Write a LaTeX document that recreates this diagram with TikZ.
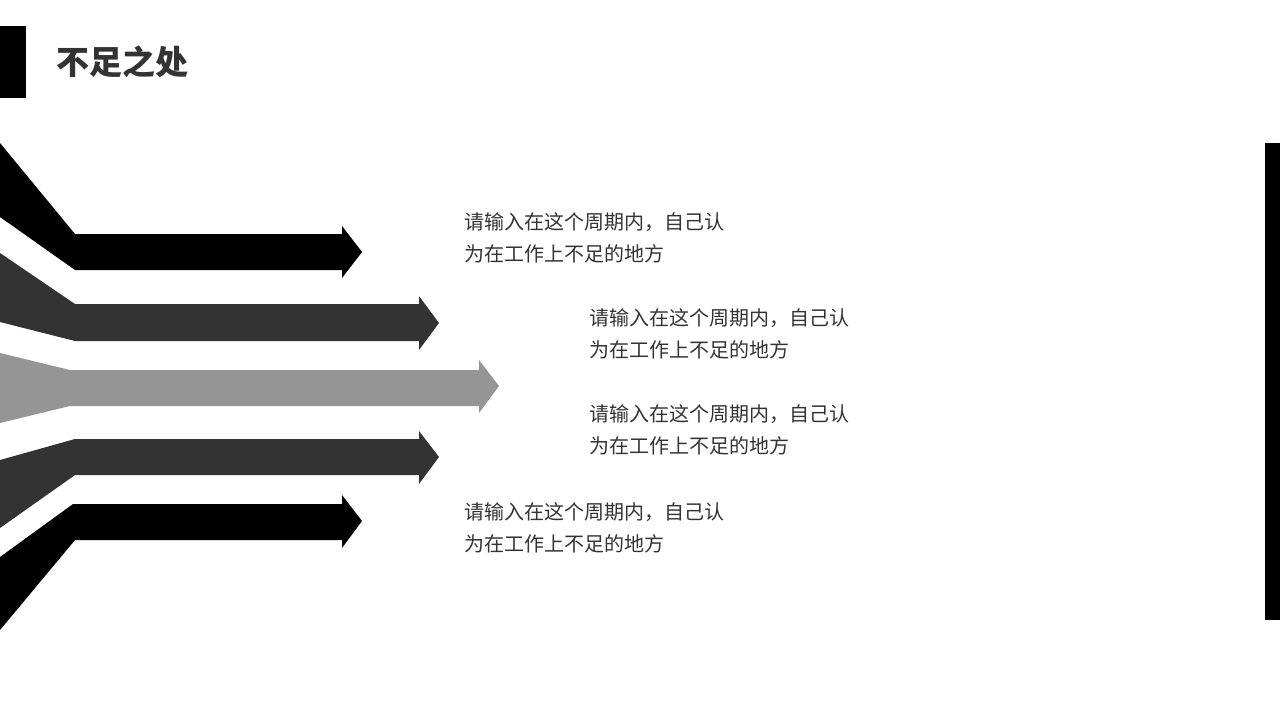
\documentclass[tikz,border=0pt]{standalone}
\usepackage{fontspec}
\newfontfamily\cjk{Noto Sans CJK SC}
\definecolor{dg}{HTML}{333333}
\definecolor{lg}{HTML}{959595}
\begin{document}
\begin{tikzpicture}[x=1pt,y=-1pt,
  txt/.style={anchor=north west,align=left,font=\cjk\fontsize{20}{32}\selectfont,text=dg,inner sep=0pt}]
\useasboundingbox (0,0) rectangle (1280,720);
\fill (0,26) rectangle (26,98);
\node[anchor=west,inner sep=0pt,font=\cjk\bfseries\fontsize{33}{36}\selectfont,text=dg] (title) at (56,62) {不足之处};
\fill (1265,143) rectangle (1280,620);
\fill[black] (0,143)--(75,234)--(342,234)--(342,226)--(362,252)--(342,278)--(342,270)--(75,270)--(0,217)--cycle;
\fill[dg] (0,253)--(75,304)--(419,304)--(419,296)--(439,323)--(419,350)--(419,341)--(75,341)--(0,322)--cycle;
\fill[lg] (0,353)--(70,370)--(479,370)--(479,360)--(499,386)--(479,413)--(479,406)--(70,406)--(0,423)--cycle;
\fill[dg] (0,460)--(75,439)--(419,439)--(419,431)--(439,457)--(419,484)--(419,475)--(75,475)--(0,528)--cycle;
\fill[black] (0,557)--(73,504)--(342,504)--(342,495)--(362,521)--(342,548)--(342,540)--(75,540)--(0,630)--cycle;
\node[txt] (t1) at (464,212) {请输入在这个周期内，自己认\\为在工作上不足的地方};
\node[txt] (t2) at (589,308) {请输入在这个周期内，自己认\\为在工作上不足的地方};
\node[txt] (t3) at (589,404) {请输入在这个周期内，自己认\\为在工作上不足的地方};
\node[txt] (t4) at (464,502) {请输入在这个周期内，自己认\\为在工作上不足的地方};
\end{tikzpicture}
\end{document}
